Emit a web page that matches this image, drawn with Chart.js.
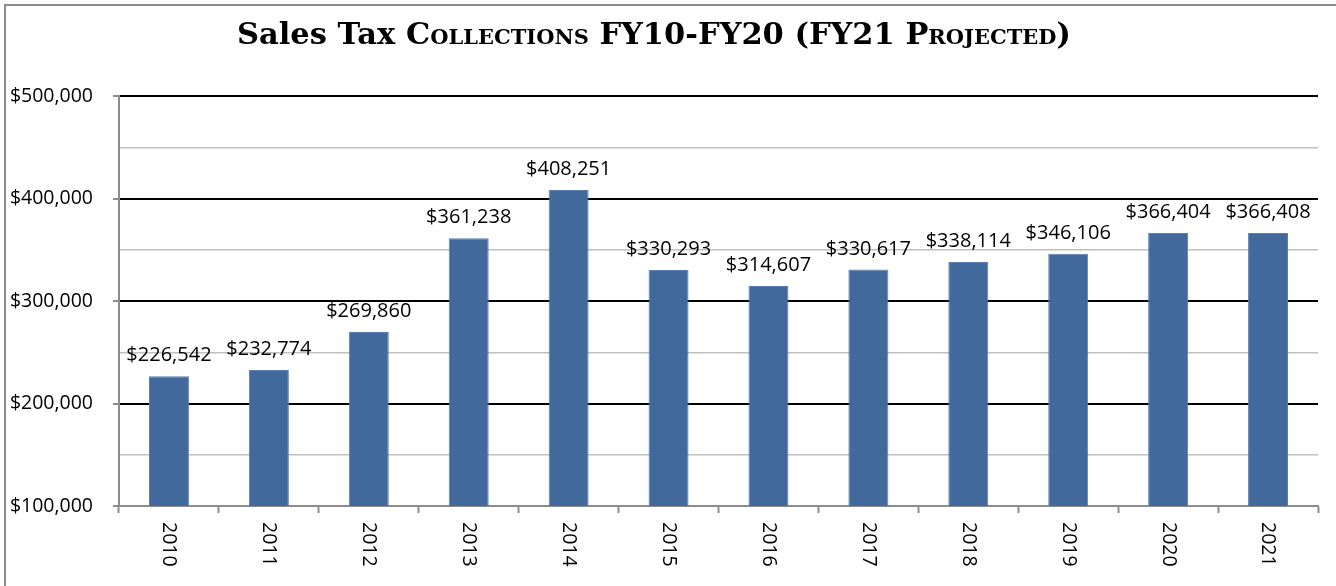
<!DOCTYPE html>
<html>
<head>
<meta charset="utf-8">
<script src="https://cdn.jsdelivr.net/npm/chart.js@4/dist/chart.umd.min.js"></script>
<style>
  html, body { margin: 0; padding: 0; background: #fff; }
  #wrap { position: relative; width: 1336px; height: 586px; overflow: hidden; }
  #frame { position: absolute; left: 4px; top: 4px; width: 1400px; height: 700px;
           border-left: 2px solid #8c8c8c; border-top: 2px solid #8c8c8c; }
  #title { position: absolute; left: -14px; width: 1336px; top: 15px; text-align: center;
           font-family: "DejaVu Serif", serif; font-weight: bold; font-size: 30.5px; color: #000; }
  #title .sc { font-variant: small-caps; }
  canvas { position: absolute; left: 0; top: 0; }
</style>
</head>
<body>
<div id="wrap">
  <div id="frame"></div>
  <canvas id="c" width="1336" height="586"></canvas>
  <div id="title">Sales Tax <span class="sc">Collections</span> FY10-FY20 (FY21 <span class="sc">Projected</span>)</div>
</div>
<script>
  const years = ["2010", "2011", "2012", "2013", "2014", "2015", "2016", "2017", "2018", "2019", "2020", "2021"];
  const collections = [226542, 232774, 269860, 361238, 408251, 330293, 314607, 330617, 338114, 346106, 366404, 366408];
  const yMin = 100000;
  const yMax = 500000;

  const FONT = '"Open Sans", sans-serif';
  const BAR = "#41699b";

  function formatMoney(n) {
    return "$" + Number(n).toLocaleString("en-US");
  }

  // bar value labels + x labels rotated clockwise
  const labelPlugin = {
    id: "labels",
    afterDatasetsDraw(chart) {
      const ctx = chart.ctx;
      const meta = chart.getDatasetMeta(0);
      ctx.save();
      ctx.font = "20px " + FONT;
      ctx.fillStyle = "#000";
      ctx.textAlign = "center";
      ctx.textBaseline = "alphabetic";
      meta.data.forEach((bar, i) => {
        ctx.fillText(formatMoney(collections[i]), bar.x, bar.y - 15);
      });
      const xs = chart.scales.x;
      const top = chart.chartArea.bottom + 16;
      ctx.font = "19.5px " + FONT;
      ctx.textAlign = "left";
      ctx.textBaseline = "middle";
      years.forEach((y, i) => {
        ctx.save();
        ctx.translate(xs.getPixelForValue(i), top);
        ctx.rotate(Math.PI / 2);
        ctx.fillText(y, 0, 0);
        ctx.restore();
      });
      ctx.restore();
    },
  };

  new Chart(document.getElementById("c"), {
    type: "bar",
    data: {
      labels: years,
      datasets: [{
        data: collections,
        backgroundColor: BAR,
        borderColor: "#5b80b0",
        borderWidth: 1,
        barPercentage: 0.4,
        categoryPercentage: 1,
      }],
    },
    options: {
      responsive: false,
      animation: false,
      layout: { padding: { top: 96, right: 18, left: 0, bottom: 0 } },
      plugins: { legend: { display: false }, tooltip: { enabled: false }, title: { display: false } },
      scales: {
        x: {
          offset: true,
          grid: {
            offset: true,
            drawOnChartArea: false,
            drawTicks: true,
            tickLength: 7,
            tickColor: "#8c8c8c",
            tickWidth: 2,
          },
          border: { color: "#8c8c8c", width: 2 },
          ticks: { display: false },
          afterFit(scale) { scale.height = 80; },
        },
        y: {
          min: yMin,
          max: yMax,
          ticks: {
            stepSize: 50000,
            padding: 20,
            color: "#000",
            font: { family: FONT, size: 19.5 },
            callback: (v) => (v % 100000 === 0 ? formatMoney(v) : ""),
          },
          grid: {
            tickLength: 6,
            color: (c) => (c.tick.value === yMin ? "#8c8c8c" : c.tick.value % 100000 === 0 ? "#000" : "#c0c0c0"),
            lineWidth: (c) => (c.tick.value % 100000 === 0 ? 2 : 1.5),
            tickColor: (c) => (c.tick.value % 100000 === 0 ? "#8c8c8c" : "rgba(0,0,0,0)"),
          },
          border: { color: "#8c8c8c", width: 2 },
          afterFit(scale) { scale.width = 119; },
        },
      },
    },
    plugins: [labelPlugin],
  });
</script>
</body>
</html>
